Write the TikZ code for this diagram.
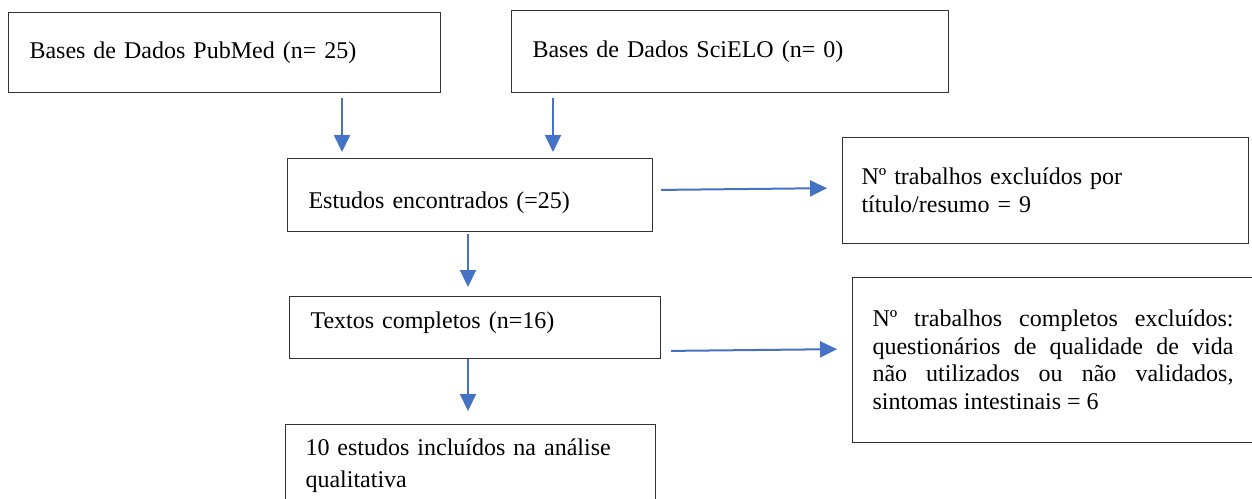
\documentclass[tikz,border=0pt]{standalone}
\usepackage{fontspec}
\setmainfont{Liberation Serif}
\usepackage{tikz}
\usepackage{xcolor}
\usetikzlibrary{arrows.meta}
\definecolor{flowblue}{HTML}{4472C4}

\begin{document}
\begin{tikzpicture}[x=0.5pt, y=-0.5pt,
    box/.style={draw=black!80, line width=0.5pt, anchor=north west, inner xsep=10.5pt, align=left,
      font=\fontsize{12pt}{13.75pt}\selectfont},
    flow/.style={draw=flowblue, line width=1pt, -{Triangle[width=8pt,length=8.5pt]}}]
    \useasboundingbox (0,0) rectangle (1252,498);
    \clip (0,0) rectangle (1252,498);

    \node[box, text width=195pt, minimum height=40pt] (pubmed) at (8,12) {Bases de Dados PubMed (n= 25)};
    \node[box, text width=197.5pt, minimum height=41pt] (scielo) at (511,10) {Bases de Dados SciELO (n= 0)};
    \node[box, text width=161.5pt, minimum height=36.5pt, text height=16pt, text depth=2.5pt] (found) at (287,158) {Estudos encontrados (=25)};
    \node[box, text width=164.5pt, minimum height=31pt, text height=6pt, text depth=5pt] (fulltext) at (289,296) {Textos completos (n=16)};
    \node[box, inner xsep=9.5pt, text width=184pt, minimum height=53pt] (excl1) at (842,137) {Nº trabalhos excluídos por\\título/resumo = 9};
    \node[box, inner xsep=10pt, text width=180.5pt, minimum height=82.5pt, align=justify] (excl2) at (852,277)
      {Nº trabalhos completos excluídos:\linebreak questionários de qualidade de vida\linebreak não utilizados ou não validados,\linebreak sintomas intestinais = 6};
    \node[box, inner xsep=10pt, inner ysep=7pt, text width=165pt, font=\fontsize{12pt}{16pt}\selectfont] (included) at (285,424) {10 estudos incluídos na análise\\qualitativa};

    % arrow columns and rows
    \coordinate (leftcol) at (342,0);
    \coordinate (rightcol) at (553,0);
    \coordinate (midcol) at (468,0);
    \coordinate (rowa) at (0,190);
    \coordinate (rowb) at (0,188);
    \coordinate (rowc) at (0,351);
    \coordinate (rowd) at (0,349);

    \draw[flow, shorten <=2.5pt, shorten >=3pt] (pubmed.south -| leftcol) -- (found.north -| leftcol);
    \draw[flow, shorten <=2.5pt, shorten >=3pt] (scielo.south -| rightcol) -- (found.north -| rightcol);
    \draw[flow, shorten <=1pt, shorten >=4.5pt] (found.south -| midcol) -- (fulltext.north -| midcol);
    \draw[flow, shorten >=6.5pt] (fulltext.south -| midcol) -- (included.north -| midcol);
    \draw[flow, shorten <=4pt, shorten >=7.5pt] (found.east |- rowa) -- (excl1.west |- rowb);
    \draw[flow, shorten <=5pt, shorten >=7.5pt] (fulltext.east |- rowc) -- (excl2.west |- rowd);
\end{tikzpicture}
\end{document}
